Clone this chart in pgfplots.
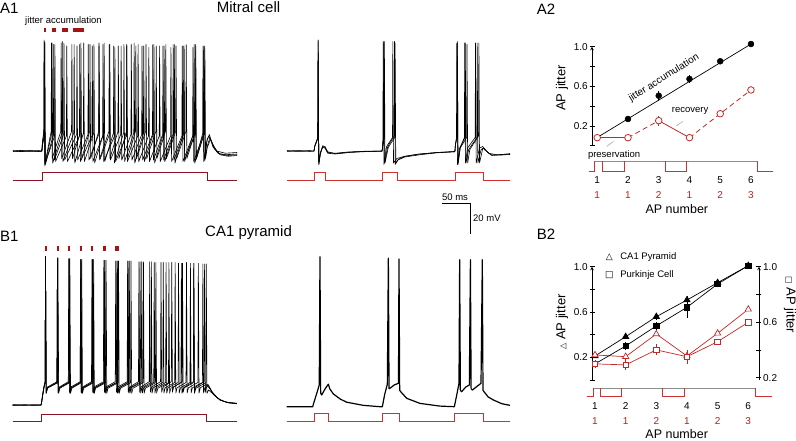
\documentclass[border=0pt]{standalone}
\usepackage{fontspec}
\setmainfont{Liberation Sans}
\newfontfamily\dejavu{DejaVu Sans}
\usepackage{pgfplots}
\pgfplotsset{compat=1.18}
\definecolor{maroon}{RGB}{140,20,40}
\definecolor{stimred}{RGB}{205,50,50}
\definecolor{mred}{RGB}{195,40,40}
\definecolor{numred}{RGB}{185,30,30}
\definecolor{barred}{RGB}{165,20,20}
\definecolor{stimgray}{RGB}{140,140,140}
\newcommand\fs[1]{\fontsize{#1}{#1}\selectfont}
\pgfplotsset{trace/.style={hide axis, clip=false, x=0.566pt, y=1.5pt, xmin=0, xmax=400, ymin=-90, ymax=40, anchor=south west},
 tr/.style={black, line width=0.6pt, line join=round},
 jit/.style={axis x line=none, axis line style={-, line width=0.6pt}, xtick=\empty, tick align=outside, major tick length=5pt, tick style={line width=0.6pt, black}, clip=false, /pgf/number format/assume math mode=true}}
\begin{document}
\begin{tikzpicture}
\useasboundingbox (0,0) rectangle (796pt,440pt);
% ---------- titles
\node[anchor=base west, inner sep=0, font=\fs{15}] at (0pt,426pt) {A1};
\node[anchor=base west, inner sep=0, font=\fs{15}] at (216.7pt,427.3pt) {Mitral cell};
\node[anchor=base west, inner sep=0, font=\fs{15}] at (536.7pt,425pt) {A2};
\node[anchor=base west, inner sep=0, font=\fs{15}] at (0pt,198.3pt) {B1};
\node[anchor=base west, inner sep=0, font=\fs{15}] at (205pt,203.3pt) {CA1 pyramid};
\node[anchor=base west, inner sep=0, font=\fs{15}] at (536.7pt,200.7pt) {B2};

% ---------- A1 left
\begin{axis}[trace, at={(13pt,251.5pt)}]
\addplot[maroon, line width=0.7pt] coordinates {(0,-84.3)(51,-84.3)(51,-79)(343,-79)(343,-84.3)(396,-84.3)};
\addplot[tr] coordinates {(0,-65)(15,-64.6)(30,-65.3)(45,-64.8)(51,-65)(52,-60)(54.4,-53)(55,8)(56.2,-75)
(68.4,-53)(69,7)(70.2,-73)(86.4,-53)(87,8)(88.2,-72)(107.4,-53)(108,6)(109.2,-73)(124.4,-53)(125,7)(126.2,-72)
(142.4,-53)(143,6)(144.2,-73)(160.4,-53)(161,7)(162.2,-72)(177.4,-53)(178,5)(179.2,-73)(195.4,-53)(196,6)(197.2,-72)
(213.4,-53)(214,7)(215.2,-73)(230.4,-53)(231,5)(232.2,-72)(248.4,-53)(249,6)(250.2,-73)(266.4,-53)(267,5)(268.2,-72)
(284.4,-53)(285,6)(286.2,-73)(301.4,-53)(302,5)(303.2,-72)(319.4,-53)(320,6)(321.2,-73)(335.4,-53)(336,5)(337.2,-72)
(343,-58)(347,-54)(353,-62)(362,-66.5)(375,-67.5)(396,-67)};
\addplot[tr] coordinates {(0,-65.3)(15,-65)(30,-64.7)(45,-65.2)(51,-65)(52,-61)(55.4,-54)(56,7)(57.2,-74)
(71.4,-54)(72,6)(73.2,-71)(89.4,-54)(90,7)(91.2,-71)(112.4,-54)(113,5)(114.2,-71)(132.4,-54)(133,6)(134.2,-71)
(151.4,-54)(152,5)(153.2,-71)(170.4,-54)(171,6)(172.2,-71)(190.4,-54)(191,5)(192.2,-71)(208.4,-54)(209,6)(210.2,-71)
(227.4,-54)(228,5)(229.2,-71)(246.4,-54)(247,6)(248.2,-71)(264.4,-54)(265,5)(266.2,-71)(282.4,-54)(283,6)(284.2,-71)
(301.4,-54)(302,5)(303.2,-71)(321.4,-54)(322,6)(323.2,-71)(337.4,-54)(338,5)(339.2,-71)
(343,-62)(348,-56)(355,-63)(365,-67)(380,-68)(396,-67.5)};
\addplot[tr] coordinates {(0,-64.8)(15,-65.2)(30,-65)(45,-65.3)(51,-65)(52,-61)(55.4,-55)(56,8)(57.2,-73)
(73.4,-55)(74,6)(75.2,-72)(94.4,-55)(95,5)(96.2,-72)(117.4,-55)(118,6)(119.2,-72)(139.4,-55)(140,5)(141.2,-72)
(158.4,-55)(159,6)(160.2,-72)(179.4,-55)(180,4)(181.2,-72)(200.4,-55)(201,5)(202.2,-72)(220.4,-55)(221,6)(222.2,-72)
(239.4,-55)(240,4)(241.2,-72)(258.4,-55)(259,5)(260.2,-72)(278.4,-55)(279,4)(280.2,-72)(298.4,-55)(299,5)(300.2,-72)
(317.4,-55)(318,4)(319.2,-72)(335.4,-55)(336,5)(337.2,-72)
(343,-57)(346,-55)(352,-60)(360,-65)(375,-66.5)(396,-66)};
\addplot[tr] coordinates {(0,-65)(15,-65.4)(30,-64.9)(45,-65)(51,-65.2)(52,-59)(54.4,-52)(55,9)(56.2,-74)
(67.4,-52)(68,7)(69.2,-70)(84.4,-52)(85,7)(86.2,-70)(103.4,-52)(104,6)(105.2,-70)(119.4,-52)(120,7)(121.2,-70)
(135.4,-52)(136,6)(137.2,-70)(151.4,-52)(152,7)(153.2,-70)(169.4,-52)(170,6)(171.2,-70)(185.4,-52)(186,5)(187.2,-70)
(200.4,-52)(201,6)(202.2,-70)(216.4,-52)(217,5)(218.2,-70)(234.4,-52)(235,6)(236.2,-70)(252.4,-52)(253,5)(254.2,-70)
(269.4,-52)(270,6)(271.2,-70)(287.4,-52)(288,5)(289.2,-70)(305.4,-52)(306,6)(307.2,-70)(322.4,-52)(323,5)(324.2,-70)
(338.4,-52)(339,4)(340.2,-70)(343,-63)(349,-57)(356,-63)(366,-67.5)(380,-68.5)(396,-68)};
\addplot[barred, line width=4.6pt] coordinates {(55.3,15.7)(58.8,15.7)};
\addplot[barred, line width=4.6pt] coordinates {(68.4,15.7)(75.4,15.7)};
\addplot[barred, line width=4.6pt] coordinates {(86,15.7)(97.7,15.7)};
\addplot[barred, line width=4.6pt] coordinates {(106.5,15.7)(125.4,15.7)};
\node[anchor=base, inner sep=0, font=\fs{9.5}] at (axis cs:89.2,19.7) {jitter accumulation};
\end{axis}

% ---------- A1 right
\begin{axis}[trace, at={(287pt,251.5pt)}]
\addplot[stimred, line width=0.7pt] coordinates {(0,-84.3)(47.7,-84.3)(47.7,-79)(67.1,-79)(67.1,-84.3)(167.8,-84.3)(167.8,-79)(194.3,-79)(194.3,-84.3)(296.6,-84.3)(296.6,-79)(346.1,-79)(346.1,-84.3)(394,-84.3)};
\addplot[tr] coordinates {(0,-65)(20,-64.7)(40,-65.2)(47.7,-65)(49,-62)(54.3,-57)(55,9)(56.2,-74)(59,-67)(63,-62)(67,-62.5)(72,-66)(85,-66.5)(110,-65.6)(140,-65.3)(168,-65)(169,-61)(169.4,-57)(170,8)(171.2,-74)(176,-62)(186.4,-56)(187,8)(188.2,-73)(194,-70)(205,-68.8)(230,-67.2)(265,-66)(296.6,-65.5)(297.5,-61)(299.4,-56)(300,7)(301.2,-74)(305,-63)(314.4,-56)(315,7)(316.2,-73)(321,-64)(335.4,-56)(336,7)(337.2,-73)(343,-64)(348,-63)(356,-66.5)(370,-67.5)(394,-67)};
\addplot[tr] coordinates {(0,-65.2)(20,-65)(40,-64.8)(47.7,-65)(49,-61.5)(54.3,-56)(55,8)(56.2,-73)(59,-66)(63,-61.5)(67,-62)(72,-65.5)(85,-66.8)(110,-65.8)(140,-65.1)(168,-65.2)(169,-61)(170.4,-56)(171,7)(172.2,-73)(178,-62)(189.4,-55)(190,8)(191.2,-74)(196,-71)(208,-69)(235,-67.5)(265,-66.2)(296.6,-65.5)(297.5,-61)(300.4,-55)(301,8)(302.2,-73)(306,-63)(317.4,-56)(318,6)(319.2,-73)(323,-64)(338.4,-55)(339,7)(340.2,-73)(346,-63)(349,-64)(360,-67.5)(375,-67.8)(394,-67.3)};
\addplot[tr] coordinates {(0,-64.8)(20,-65.3)(40,-65)(47.7,-65.1)(49,-62)(54.3,-56.5)(55,9)(56.2,-74)(59,-66.5)(63,-62.5)(67,-63)(72,-66.5)(85,-67)(110,-66)(140,-65.4)(168,-65)(169,-62)(171.4,-56)(172,8)(173.2,-73)(179,-62.5)(190.4,-56)(191,7)(192.2,-73)(197,-70.5)(208,-68.5)(235,-67)(265,-66)(296.6,-65.3)(297.5,-61)(300.4,-56)(301,7)(302.2,-74)(306,-63)(313.4,-56)(314,7)(315.2,-73)(319,-63)(332.4,-56)(333,7)(334.2,-73)(340,-63)(346,-62)(349,-64)(362,-68)(394,-66.8)};
% scale bar
\addplot[black, line width=0.7pt] coordinates {(273.3,-100)(323.3,-100)(323.3,-120)};
\node[anchor=base, inner sep=0, font=\fs{9.5}] at (axis cs:296.8,-97.7) {50 ms};
\node[anchor=west, inner sep=0, font=\fs{9.5}] at (axis cs:328.6,-109.9) {20 mV};
\end{axis}

% ---------- B1 left
\begin{axis}[trace, at={(12.7pt,5pt)}]
\addplot[maroon, line width=0.7pt] coordinates {(0,-80.7)(51,-80.7)(51,-76.2)(343,-76.2)(343,-80.7)(396,-80.7)};
\addplot[tr] coordinates {(0,-70)(20,-70.2)(40,-69.9)(50,-70)(51,-68.5)(53,-63.5)(55.5,-58)(57.2,-55)(58,29)(59.2,-62)(61.5,-58.5)
(78.2,-55)(79,28)(80.2,-62)(82.5,-58.5)(99.2,-55)(100,27.5)(101.2,-62)(103.5,-58.5)(119.2,-55)(120,27)(121.2,-62)(123.5,-58.5)
(140.2,-55)(141,27)(142.2,-62)(144.5,-58.5)(161.2,-55)(162,26.5)(163.2,-62)(165.5,-58.5)(183.2,-55)(184,26)(185.2,-62)(187.5,-58.5)
(203.2,-55)(204,26)(205.2,-62)(207.5,-58.5)(224.2,-55)(225,25.5)(226.2,-62)(228.5,-58.5)(244.2,-55)(245,25.5)(246.2,-62)(248.5,-58.5)
(265.2,-55)(266,25)(267.2,-62)(269.5,-58.5)(286.2,-55)(287,25)(288.2,-62)(290.5,-58.5)(306.2,-55)(307,25)(308.2,-62)(310.5,-58.5)
(327.2,-55)(328,24.5)(329.2,-62)(331.5,-58.5)(343,-56)(346,-57.5)(354,-62.5)(366,-66.7)(380,-68.3)(396,-69)};
\addplot[tr] coordinates {(0,-70.3)(20,-70)(40,-70.2)(50,-70)(51,-68.5)(53,-63)(55.5,-57.5)(57.2,-55)(58,29)(59.2,-62)(61.5,-58.5)
(78.2,-55)(79,28)(80.2,-62)(82.5,-58.5)(99.2,-55)(100,27.5)(101.2,-62)(103.5,-58.5)(120.2,-55)(121,27)(122.2,-62)(124.5,-58.5)
(141.2,-55)(142,27)(143.2,-62)(145.5,-58.5)(162.2,-55)(163,26.5)(164.2,-62)(166.5,-58.5)(184.2,-55)(185,26)(186.2,-62)(188.5,-58.5)
(205.2,-55)(206,26)(207.2,-62)(209.5,-58.5)(227.2,-55)(228,25.5)(229.2,-62)(231.5,-58.5)(249.2,-55)(250,25)(251.2,-62)(253.5,-58.5)
(270.2,-55)(271,25)(272.2,-62)(274.5,-58.5)(292.2,-55)(293,24.5)(294.2,-62)(296.5,-58.5)(313.2,-55)(314,24.5)(315.2,-62)(317.5,-58.5)
(335.2,-55)(336,24)(337.2,-62)(339.5,-58.5)(343,-57)(348,-59)(356,-63.5)(368,-67)(382,-68.5)(396,-69.2)};
\addplot[tr] coordinates {(0,-69.8)(20,-70)(40,-70.1)(50,-69.9)(51,-68)(53,-62.5)(55.5,-57)(57.2,-54.5)(58,29)(59.2,-61.5)(61.5,-58)
(78.2,-54.5)(79,28)(80.2,-61.5)(82.5,-58)(98.2,-54.5)(99,27.5)(100.2,-61.5)(102.5,-58)(119.2,-54.5)(120,27)(121.2,-61.5)(123.5,-58)
(139.2,-54.5)(140,27)(141.2,-61.5)(143.5,-58)(160.2,-54.5)(161,26.5)(162.2,-61.5)(164.5,-58)(181.2,-54.5)(182,26)(183.2,-61.5)(185.5,-58)
(202.2,-54.5)(203,26)(204.2,-61.5)(206.5,-58)(222.2,-54.5)(223,25.5)(224.2,-61.5)(226.5,-58)(241.2,-54.5)(242,25.5)(243.2,-61.5)(245.5,-58)
(261.2,-54.5)(262,25)(263.2,-61.5)(265.5,-58)(280.2,-54.5)(281,25)(282.2,-61.5)(284.5,-58)(299.2,-54.5)(300,24.5)(301.2,-61.5)(303.5,-58)
(319.2,-54.5)(320,24.5)(321.2,-61.5)(323.5,-58)(338.2,-54.5)(339,24)(340.2,-61.5)(342.5,-58)(345.6,-56.5)(352,-61)(362,-65.5)(376,-68)(396,-68.8)};
\addplot[tr] coordinates {(0,-70.1)(20,-69.9)(40,-70)(50,-70.1)(51,-68.8)(53,-63.8)(55.5,-58)(57.2,-55.2)(58,29)(59.2,-62.2)(61.5,-58.8)
(79.2,-55.2)(80,28)(81.2,-62.2)(83.5,-58.8)(100.2,-55.2)(101,27.5)(102.2,-62.2)(104.5,-58.8)(121.2,-55.2)(122,27)(123.2,-62.2)(125.5,-58.8)
(142.2,-55.2)(143,27)(144.2,-62.2)(146.5,-58.8)(164.2,-55.2)(165,26.5)(166.2,-62.2)(168.5,-58.8)(186.2,-55.2)(187,26)(188.2,-62.2)(190.5,-58.8)
(208.2,-55.2)(209,26)(210.2,-62.2)(212.5,-58.8)(230.2,-55.2)(231,25.5)(232.2,-62.2)(234.5,-58.8)(252.2,-55.2)(253,25)(254.2,-62.2)(256.5,-58.8)
(275.2,-55.2)(276,25)(277.2,-62.2)(279.5,-58.8)(297.2,-55.2)(298,24.5)(299.2,-62.2)(301.5,-58.8)(319.2,-55.2)(320,24.5)(321.2,-62.2)(323.5,-58.8)
(341.2,-55.2)(342,24)(343.2,-62.2)(346,-60)(355,-63)(367,-66.8)(381,-68.6)(396,-69.1)};
\addplot[barred, line width=4.7pt] coordinates {(57.1,34.5)(60.6,34.5)};
\addplot[barred, line width=4.7pt] coordinates {(77.7,34.5)(81.3,34.5)};
\addplot[barred, line width=4.7pt] coordinates {(97.7,34.5)(101.8,34.5)};
\addplot[barred, line width=4.7pt] coordinates {(118.4,34.5)(122.4,34.5)};
\addplot[barred, line width=4.7pt] coordinates {(138.3,34.5)(142.4,34.5)};
\addplot[barred, line width=4.7pt] coordinates {(159.6,34.5)(164.3,34.5)};
\addplot[barred, line width=4.7pt] coordinates {(180.8,34.5)(188.4,34.5)};
\end{axis}

% ---------- B1 right
\begin{axis}[trace, at={(286.7pt,3.3pt)}]
\addplot[stimred, line width=0.7pt] coordinates {(0,-79.5)(48.8,-79.5)(48.8,-74.4)(73.5,-74.4)(73.5,-79.5)(168.6,-79.5)(168.6,-74.4)(199.8,-74.4)(199.8,-79.5)(296,-79.5)(296,-74.4)(347,-74.4)(347,-79.5)(394.5,-79.5)};
\addplot[black, line width=1.2pt, line join=round] coordinates {(0,-70)(45.9,-70)(49,-66)(54,-60)(57.5,-55.5)(58.8,30)(60,-61)(61.8,-62.2)(68,-58)(73.6,-55)(76,-58)(82.4,-61.5)(95,-65)(106,-67)(135.4,-69.1)(164.8,-70)(169,-70)(173,-62)(177.8,-55)(179.6,29)(180.8,-58)(182.5,-57.7)(190,-55.5)(197.5,-54.4)(198.4,28.5)(199.6,-59)(201.4,-60)(212,-64.4)(235.5,-67.8)(270.9,-69.6)(296.2,-70)(300,-63)(304.4,-54.4)(305.6,28)(306.8,-59)(309.1,-60)(316,-57)(322.7,-55.5)(324.6,28)(325.8,-58)(328,-58.9)(336,-56.5)(343.3,-54.4)(345.6,28)(346.8,-59)(348.6,-60)(356,-63.5)(365.1,-65.5)(380,-68)(394.5,-69.1)};
\end{axis}

% ---------- A2
\begin{axis}[jit, at={(592pt,294.3pt)}, anchor=south west, x=30.75pt, y=99pt,
 xmin=0.83, xmax=6.29, ymin=0, ymax=1, axis y line=left,
 ytick={0,0.2,0.4,0.6,0.8,1}, yticklabels={,0.2,,0.6,,1.0},
 yticklabel style={font=\fs{10}, inner sep=1.5pt}]
\addplot[stimgray, line width=0.8pt] coordinates {(0.903,-0.159)(6.205,-0.159)};
\addplot[stimred, line width=0.7pt] coordinates {(0.718,-0.26)(0.903,-0.26)(0.903,-0.159)};
\addplot[stimred, line width=0.7pt] coordinates {(1.172,-0.159)(1.172,-0.26)(1.877,-0.26)(1.877,-0.159)};
\addplot[stimred, line width=0.7pt] coordinates {(3.23,-0.159)(3.23,-0.26)(3.89,-0.26)(3.89,-0.159)};
\addplot[stimred, line width=0.7pt] coordinates {(6.205,-0.159)(6.205,-0.26)(6.705,-0.26)};
\addplot[gray!70, line width=0.6pt] coordinates {(3.57,0.2)(3.79,0.246)};
\addplot[gray!70, line width=0.6pt] coordinates {(1.31,-0.007)(1.53,0.043)};
\addplot[black, line width=0.7pt] coordinates {(1,0.083)(6,1.027)};
\addplot[only marks, black, mark=*, mark size=3pt, error bars/.cd, y dir=both, y explicit, error mark=none, error bar style={line width=0.7pt}]
 coordinates {(2,0.27) +- (0,0) (3,0.505) +- (0,0.05) (4,0.674) +- (0,0.04) (5,0.853) +- (0,0) (6,1.027) +- (0,0)};
\addplot[mred, line width=0.8pt] coordinates {(1,0.081)(2,0.081)};
\addplot[mred, line width=0.8pt, dash pattern=on 5pt off 3.5pt] coordinates {(2,0.081)(3,0.253)};
\addplot[mred, line width=0.8pt] coordinates {(3,0.253)(4,0.081)};
\addplot[mred, line width=0.8pt, dash pattern=on 5pt off 3.5pt] coordinates {(4,0.081)(5,0.323)(6,0.563)};
\addplot[only marks, mred, mark=*, mark size=3.3pt, mark options={fill=white, line width=0.8pt}, error bars/.cd, y dir=both, y explicit, error mark=none, error bar style={line width=0.8pt}]
 coordinates {(1,0.081) +- (0,0) (2,0.081) +- (0,0) (3,0.253) +- (0,0.05) (4,0.081) +- (0,0.035) (5,0.323) +- (0,0) (6,0.563) +- (0,0)};
\node[font=\fs{9.5}] at (axis cs:1.55,-0.09) {preservation};
\node[font=\fs{9.5}] at (axis cs:4.02,0.354) {recovery};
\node[font=\fs{10}, rotate=32] at (axis cs:3.17,0.684) {jitter accumulation};
\node[font=\fs{13}, rotate=90] at (axis cs:-0.148,0.583) {AP jitter};
\node[font=\fs{10}] at (axis cs:1,-0.35) {1};
\node[font=\fs{10}] at (axis cs:2,-0.35) {2};
\node[font=\fs{10}] at (axis cs:3,-0.35) {3};
\node[font=\fs{10}] at (axis cs:4,-0.35) {4};
\node[font=\fs{10}] at (axis cs:5,-0.35) {5};
\node[font=\fs{10}] at (axis cs:6,-0.35) {6};
\node[font=\fs{10}, text=numred] at (axis cs:1,-0.495) {1};
\node[font=\fs{10}, text=numred] at (axis cs:2,-0.495) {1};
\node[font=\fs{10}, text=numred] at (axis cs:3,-0.495) {2};
\node[font=\fs{10}, text=numred] at (axis cs:4,-0.495) {1};
\node[font=\fs{10}, text=numred] at (axis cs:5,-0.495) {2};
\node[font=\fs{10}, text=numred] at (axis cs:6,-0.495) {3};
\node[font=\fs{12.5}] at (axis cs:3.59,-0.64) {AP number};
\end{axis}

% ---------- B2 left
\begin{axis}[jit, at={(592pt,60pt)}, anchor=south west, x=30.65pt, y=113.3pt,
 xmin=0.902, xmax=6.35, ymin=0, ymax=1, axis y line=left,
 ytick={0,0.2,0.4,0.6,0.8,1}, yticklabels={,0.2,,0.6,,1.0},
 yticklabel style={font=\fs{10}, inner sep=1.5pt}]
\addplot[stimgray, line width=0.8pt] coordinates {(0.945,-0.073)(6.243,-0.073)};
\addplot[stimred, line width=0.7pt] coordinates {(0.729,-0.147)(0.945,-0.147)(0.945,-0.073)};
\addplot[stimred, line width=0.7pt] coordinates {(1.186,-0.073)(1.186,-0.147)(1.871,-0.147)(1.871,-0.073)};
\addplot[stimred, line width=0.7pt] coordinates {(3.209,-0.073)(3.209,-0.147)(3.904,-0.147)(3.904,-0.073)};
\addplot[stimred, line width=0.7pt] coordinates {(6.243,-0.073)(6.243,-0.147)(6.765,-0.147)};
\addplot[black, line width=0.7pt, mark=triangle*, mark size=3.6pt, error bars/.cd, y dir=both, y explicit, error mark=none]
 coordinates {(1,0.212) +- (0,0) (2,0.382) +- (0,0.02) (3,0.559) +- (0,0.03) (4,0.706) +- (0,0.03) (5,0.859) +- (0,0.015) (6,1.009) +- (0,0)};
\addplot[mred, line width=0.7pt, mark=triangle*, mark size=3.6pt, mark options={fill=white}, error bars/.cd, y dir=both, y explicit, error mark=none]
 coordinates {(1,0.221) +- (0,0.02) (2,0.206) +- (0,0.02) (3,0.406) +- (0,0.02) (4,0.212) +- (0,0.02) (5,0.412) +- (0,0.015) (6,0.624) +- (0,0)};
\node[font=\fs{9}, anchor=center] at (axis cs:1.47,1.083) {\dejavu △};
\node[font=\fs{9.5}, anchor=west, inner sep=0] at (axis cs:1.82,1.083) {CA1 Pyramid};
\node[font=\fs{9}, anchor=center] at (axis cs:1.47,0.929) {\dejavu □};
\node[font=\fs{9.5}, anchor=west, inner sep=0] at (axis cs:1.82,0.929) {Purkinje Cell};
\node[font=\fs{13}, rotate=90] at (axis cs:-0.077,0.512) {{\dejavu\fs{8}△}\ AP jitter};
\node[font=\fs{13}, rotate=-90] at (axis cs:7.36,0.662) {{\dejavu\fs{8}□}\ AP jitter};
\node[font=\fs{10}] at (axis cs:1,-0.229) {1};
\node[font=\fs{10}] at (axis cs:2,-0.229) {2};
\node[font=\fs{10}] at (axis cs:3,-0.229) {3};
\node[font=\fs{10}] at (axis cs:4,-0.229) {4};
\node[font=\fs{10}] at (axis cs:5,-0.229) {5};
\node[font=\fs{10}] at (axis cs:6,-0.229) {6};
\node[font=\fs{10}, text=numred] at (axis cs:1,-0.362) {1};
\node[font=\fs{10}, text=numred] at (axis cs:2,-0.362) {1};
\node[font=\fs{10}, text=numred] at (axis cs:3,-0.362) {2};
\node[font=\fs{10}, text=numred] at (axis cs:4,-0.362) {1};
\node[font=\fs{10}, text=numred] at (axis cs:5,-0.362) {2};
\node[font=\fs{10}, text=numred] at (axis cs:6,-0.362) {3};
\node[font=\fs{12.5}] at (axis cs:3.665,-0.477) {AP number};
\end{axis}

% ---------- B2 right
\begin{axis}[jit, at={(592pt,60pt)}, anchor=south west, x=30.65pt, y=138.75pt,
 xmin=0.902, xmax=6.35, ymin=0.183, ymax=1, axis y line=right,
 ytick={0.2,0.4,0.6,0.8,1}, yticklabels={0.2,,0.6,,1.0},
 yticklabel style={font=\fs{10}, inner sep=1.5pt}]
\addplot[black, line width=0.7pt, mark=square*, mark size=2.8pt, error bars/.cd, y dir=both, y explicit, error mark=none]
 coordinates {(1,0.299) +- (0,0.03) (2,0.428) +- (0,0.03) (3,0.573) +- (0,0.03) (4,0.707) +- (0,0.08) (5,0.875) +- (0,0.02) (6,1.007) +- (0,0)};
\addplot[mred, line width=0.7pt, mark=square*, mark size=2.8pt, mark options={fill=white}, error bars/.cd, y dir=both, y explicit, error mark=none]
 coordinates {(1,0.299) +- (0,0.03) (2,0.292) +- (0,0.04) (3,0.40) +- (0,0.04) (4,0.351) +- (0,0.05) (5,0.459) +- (0,0.02) (6,0.599) +- (0,0)};
\end{axis}
\end{tikzpicture}
\end{document}
